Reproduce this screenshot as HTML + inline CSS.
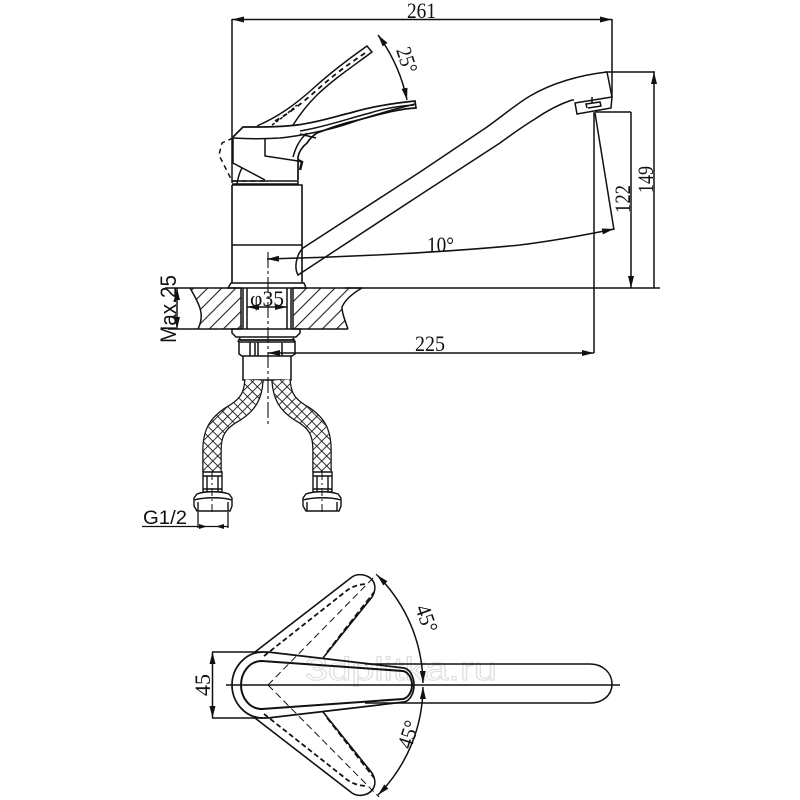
<!DOCTYPE html>
<html><head><meta charset="utf-8"><style>
html,body{margin:0;padding:0;background:#fff;width:800px;height:800px;overflow:hidden}
svg{display:block}
text{font-family:"Liberation Serif",serif;font-size:22px;fill:#111}
.s{font-family:"Liberation Sans",sans-serif}
</style></head><body>
<svg width="800" height="800" viewBox="0 0 800 800" xmlns="http://www.w3.org/2000/svg">
<defs>
<pattern id="h" width="10" height="10" patternUnits="userSpaceOnUse" patternTransform="rotate(45)"><line x1="0" y1="0" x2="0" y2="10" stroke="#222" stroke-width="2.2"/></pattern>
<pattern id="x" width="7" height="7" patternUnits="userSpaceOnUse" patternTransform="rotate(45)"><path d="M0 0H7M0 0V7" stroke="#111" stroke-width="1.7" fill="none"/></pattern>
<marker id="a" markerWidth="12" markerHeight="6" refX="12" refY="3" orient="auto-start-reverse" markerUnits="userSpaceOnUse"><path d="M0 0L12 3L0 6Z" fill="#111"/></marker>
</defs>
<text x="305" y="680" textLength="192" lengthAdjust="spacingAndGlyphs" class="s" style="font-size:32px;fill:#fff;stroke:#ddd;stroke-width:1">3dplitka.ru</text>
<g fill="none" stroke="#111" stroke-width="1.5">
<!-- top dim -->
<path d="M232 19V183M612 19V97" />
<path d="M232 19.500H612" marker-start="url(#a)" marker-end="url(#a)"/>
<!-- raised handle -->
<path d="M257 126C275 118 292 108 317 85C335 69 350 58 367 46L372 52C352 67 335 78 317 95C308 104 300 114 293 125"/>
<path d="M275 121C295 110 310 96 325 83C340 70 352 62 368 51" stroke-dasharray="5 4" stroke-width="1.8"/>
<path d="M272 125C282 118 288 113 297 105" stroke-dasharray="3 2"/>
<path d="M378 35C392 54 402 76 407 100" marker-start="url(#a)" marker-end="url(#a)"/>
<!-- handle -->
<path d="M233 137L243 127C265 127 280 127 297 125C320 122 340 115 350 113C370 107 395 103 415 101L416 108C395 109 375 116 350 122C335 126 325 130 317 133C312 136 309 140 307 143C302 147 299 152 298 157V180" stroke-width="1.7"/>
<path d="M233 138C250 139 265 139 280 138C300 136 330 130 350 123C370 116 395 109 415 104"/>
<path d="M300 131C325 127 350 118 370 113C385 108 400 106 414 105"/>
<path d="M233 138V163L265 180M265 138V156L298 161M307 133C298 141 295 150 293 157M300 134L316 138"/>
<path d="M232 181H298V184H232" stroke-width="1.5"/>
<path d="M298 160l4 2l-2 8" stroke-width="2.5"/>
<path d="M233 138L222 143L219 155L232 181H265" stroke-dasharray="5 4"/>
<path d="M242 168C239 173 238 178 237 184"/>
<!-- body -->
<path d="M232 185H302V283M232 185V283M232 245H302" stroke-width="1.6"/>
<path d="M231 283H304L306 288H228ZM232 283H302" stroke-width="1.5"/>
<!-- spout -->
<path d="M303 248L420 172L487 127C505 114 518 103 530 96C552 83 580 75 607 72"/>
<path d="M303 248C296 255 294 268 298 275L420 195L500 143C515 132 525 125 535 119C548 110 560 104 572 100"/>
<path d="M607 72L612 97L611 108L577 114L575 103L612 97"/>
<path d="M587 108L586 104L600 102L601 106L588 108M592 97L592 103M574 100L572 100"/>
<!-- dims right -->
<path d="M605 72H655M595 112H631M345 288H660"/>
<path d="M654 72V288M631 112V288" marker-start="url(#a)" marker-end="url(#a)"/>
<path d="M594 112V353"/>
<path d="M595 113L614 230"/>
<path d="M267 259C350 257 450 252 520 245C560 240 590 234 614 229" marker-start="url(#a)" marker-end="url(#a)"/>
<!-- counter -->
<path d="M190 288C200 305 205 315 198 329H241V288ZM293 288V329H348C344 318 342 312 342 307C346 298 355 292 362 288Z" fill="url(#h)" stroke="none"/>
<path d="M165 288H241M293 288H362M168 329H241M293 329H348M198 329C205 315 200 305 190 288M348 329C344 318 342 312 342 307C346 298 355 292 362 288"/>
<path d="M241 288V329M243 288V329M247 288V329M287 288V329M291 288V329M293 288V329"/>
<path d="M247 307H287" marker-start="url(#a)" marker-end="url(#a)"/>
<path d="M177 288V329" marker-start="url(#a)" marker-end="url(#a)"/>
<!-- lower -->
<path d="M232 329H300V333L296 337H236L232 333ZM238 337L295 337" stroke-width="1.5"/>
<path d="M240 340H294M238 342L240 338M295 342L293 338" stroke-width="1.8"/>
<path d="M239 342H295V354L292 356H242L239 354ZM255 343V356M282 343V356M250 342V356M258 342V356" stroke-width="1.5"/>
<path d="M243 356V380H291V356" stroke-width="1.5"/>
<path d="M268 353H594" marker-end="url(#a)"/>
<path d="M268 353H282" marker-start="url(#a)" stroke-width="1"/>
</g>
<!-- hoses -->
<g fill="none">
<path d="M254 380C253 396 248 404 236 412C218 422 212 432 212 450V472" stroke="#111" stroke-width="19.5"/>
<path d="M254 380C253 396 248 404 236 412C218 422 212 432 212 450V472" stroke="#fff" stroke-width="17"/>
<path d="M254 380C253 396 248 404 236 412C218 422 212 432 212 450V472" stroke="url(#x)" stroke-width="17"/>
<path d="M281 380C282 396 287 404 299 412C317 422 322 432 322 450V472" stroke="#111" stroke-width="19.5"/>
<path d="M281 380C282 396 287 404 299 412C317 422 322 432 322 450V472" stroke="#fff" stroke-width="17"/>
<path d="M281 380C282 396 287 404 299 412C317 422 322 432 322 450V472" stroke="url(#x)" stroke-width="17"/>
</g>
<g fill="#fff" stroke="#111" stroke-width="1.4">
<path d="M203 472H222V492H203ZM203 476H222M203 489H222M207 476V492M218 476V492"/>
<path d="M313 472H332V492H313ZM313 476H332M313 489H332M317 476V492M328 476V492"/>
<path d="M197 494C205 491 220 491 229 494L232 498V506L230 511H197L194 506V498ZM194 500C205 497 222 497 232 500M198 502V511M228 502V511"/>
<path d="M306 494C314 491 329 491 338 494L341 498V506L339 511H306L303 506V498ZM303 500C314 497 331 497 341 500M307 502V511M337 502V511"/>
</g>
<g fill="none" stroke="#111" stroke-width="1.3">
<path d="M198 512V528M228 512V528M142 526.500H228"/>
<path d="M268 252V425" stroke-dasharray="16 3 3 3" stroke-width="1.1"/>
<path d="M212 472V515M322 472V515" stroke-dasharray="8 3 2 3" stroke-width="1"/>
</g>
<path d="M207 526.500l-8-2.500v5ZM216 526.500l8-2.500v5Z" fill="#111"/>
<!-- top view -->
<g fill="none" stroke="#111" stroke-width="1.5">
<path d="M255 652L352 577C358 573 368 574 373 581C376 586 375 592 372 597L323 658" stroke-width="1.6"/>
<path d="M264 656L345 592C352 586 360 584 368 584" stroke-dasharray="5 3" stroke-width="1.8"/>
<path d="M327 652L374 592" stroke-dasharray="6 3"/>
<path d="M255 718L352 793C358 797 368 796 373 789C376 784 375 778 372 773L323 712" stroke-width="1.6"/>
<path d="M264 714L345 778C352 784 360 786 368 786" stroke-dasharray="5 3" stroke-width="1.8"/>
<path d="M327 718L374 778" stroke-dasharray="6 3"/>
<path d="M268 685L377 574M268 685L379 797" stroke-dasharray="7 4" stroke-width="1"/>
<path d="M377 575A155 155 0 0 1 423 683" marker-start="url(#a)" marker-end="url(#a)"/>
<path d="M423 687A155 155 0 0 1 378 795" marker-start="url(#a)" marker-end="url(#a)"/>
<path d="M263 652C245 652 232 668 232 685C232 702 245 718 263 718C266 718 270 718 272 717.500L404 702C410 701 414 693 414 685C414 677 410 669 404 668L272 652.500C270 652 266 652 263 652Z" stroke-width="1.7"/>
<path d="M262 661C249 661 241 673 241 685C241 697 249 709 262 709L403 699C408 698 412 692 412 685C412 678 408 672 403 671Z" stroke-width="2"/>
<path d="M365 664H590C603 664 612 673 612 684C612 695 603 703 590 703H365"/>
<path d="M226 685H620"/>
<path d="M212 652H263M212 718H263"/>
<path d="M212.500 652V718" marker-start="url(#a)" marker-end="url(#a)"/>
</g>
<g>
<text x="407" y="18" textLength="29" lengthAdjust="spacingAndGlyphs">261</text>
<text x="415" y="351" textLength="30" lengthAdjust="spacingAndGlyphs">225</text>
<text x="427" y="252" textLength="27" lengthAdjust="spacingAndGlyphs">10°</text>
<text transform="translate(396,50) rotate(72)" textLength="26" lengthAdjust="spacingAndGlyphs">25°</text>
<text transform="translate(653,193) rotate(-90)" textLength="27" lengthAdjust="spacingAndGlyphs">149</text>
<text transform="translate(630,213) rotate(-90)" textLength="28" lengthAdjust="spacingAndGlyphs">122</text>
<text x="250" y="306" textLength="34" lengthAdjust="spacingAndGlyphs">φ35</text>
<text transform="translate(176,343) rotate(-90)" class="s" textLength="68" lengthAdjust="spacingAndGlyphs">Max.25</text>
<text x="143" y="524" class="s" textLength="44" lengthAdjust="spacingAndGlyphs" style="font-size:19px">G1/2</text>
<text transform="translate(210,696) rotate(-90)" textLength="22" lengthAdjust="spacingAndGlyphs">45</text>
<text transform="translate(415,608) rotate(70)" textLength="28" lengthAdjust="spacingAndGlyphs">45°</text>
<text transform="translate(411,750) rotate(-72)" textLength="28" lengthAdjust="spacingAndGlyphs">45°</text>
</g>
</svg>
</body></html>
